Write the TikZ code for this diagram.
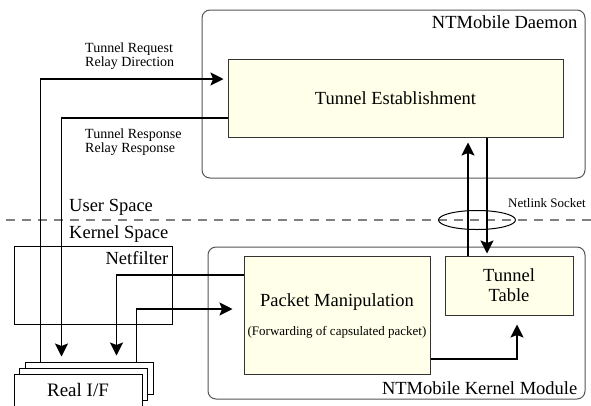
\documentclass[tikz,border=0pt]{standalone}
\usepackage{fontspec}
\setmainfont{Liberation Serif}
\usetikzlibrary{positioning, arrows.meta, shapes.geometric}
\definecolor{boxyellow}{RGB}{255,255,234}
\definecolor{framegray}{RGB}{85,85,85}
\newcommand{\bigfont}{\fontsize{18.5}{20}\selectfont}
\newcommand{\smallfont}{\fontsize{14}{14}\selectfont}
\newcommand{\tinyfont}{\fontsize{13}{14}\selectfont}

\begin{document}
\begin{tikzpicture}[x=1pt, y=-1pt, font=\bigfont,
  frame/.style={draw=framegray, line width=1pt, rounded corners=8pt, inner sep=0pt},
  block/.style={draw=black!80, line width=1pt, fill=boxyellow, inner sep=0pt, align=center},
  card/.style={draw, line width=1pt, fill=white, minimum width=128, minimum height=32, inner sep=0pt},
  tag/.style={inner sep=0pt},
  arr/.style={line width=1.4pt, -{Stealth[length=13pt, width=13pt, inset=2.5pt]}},
  sepline/.style={draw=gray, line width=1.2pt, dash pattern=on 9pt off 7pt}]
  \clip (0,0) rectangle (591,405);

  % user / kernel separation
  \coordinate (sepl) at (6,220);
  \coordinate (sepr) at (591,220);
  \draw[sepline] (sepl) -- (sepr);
  \node[tag, anchor=base west] (user) at (69,211) {User Space};
  \node[tag, anchor=base west] (kernel) at (69,238) {Kernel Space};

  % frames
  \node[frame, minimum width=383, minimum height=168] (daemon) at (393.5,94) {};
  \node[tag, anchor=base east] (daemontxt) at ([xshift=-8, yshift=-19]daemon.north east) {NTMobile Daemon};
  \node[frame, minimum width=377, minimum height=152] (kmod) at (396.5,323) {};
  \node[tag, anchor=base east] (kmodtxt) at ([xshift=-8, yshift=5]kmod.south east) {NTMobile Kernel Module};
  \node[draw, line width=1pt, minimum width=158, minimum height=78, inner sep=0pt] (netf) at (93,285) {};
  \node[tag, anchor=base east] (netftxt) at ([xshift=-4, yshift=-19]netf.north east) {Netfilter};

  % blocks
  \node[block, minimum width=335, minimum height=78] (est) at (395.5,98) {Tunnel Establishment};
  \node[block, minimum width=186, minimum height=118] (pm) at (337,315) {};
  \node[tag] (pmtxt) at ([yshift=13]pm.center) {Packet Manipulation};
  \node[tag, font=\tinyfont] (pmsub) at ([yshift=-17]pm.center) {(Forwarding of capsulated packet)};
  \node[block, minimum width=128, minimum height=59] (tt) at (509,285.5) {Tunnel\\Table};

  % real interfaces
  \node[card] (rifb) at (89,378) {};
  \node[card] (rifm) at (83,384) {};
  \node[card, font=\fontsize{19}{20}\selectfont] (riff) at (78,390) {Real I/F};

  % netlink socket
  \draw[arr, shorten >=5] ([xshift=-41]tt.north) -- ([xshift=72.5]est.south);
  \draw[arr, shorten >=2] ([xshift=91.5]est.south) -- ([xshift=-22]tt.north);
  \node[draw, ellipse, line width=1pt, minimum width=77, minimum height=19, inner sep=0pt] (sock) at (477,220) {};
  \node[tag, anchor=base west, font=\tinyfont] (socktxt) at (508,207) {Netlink Socket};

  % relay paths
  \draw[arr, shorten >=4] ([xshift=16]rifb.north west) |- ([yshift=19]est.west);
  \draw[arr, shorten >=5] ([yshift=-20]est.west) -| ([xshift=37]rifb.north west);
  \draw[arr, shorten >=6] ([yshift=40]pm.west) -| ([xshift=92]rifb.north west);
  \draw[arr, shorten >=11] ([xshift=112]rifb.north west) |- ([yshift=6]pm.west);
  \draw[arr, shorten >=9] ([yshift=-44]pm.east) -| ([xshift=8]tt.south);

  \node[tag, align=left, anchor=west, font=\smallfont] (reqtxt) at (85,56) {Tunnel Request\\Relay Direction};
  \node[tag, align=left, anchor=west, font=\smallfont] (restxt) at (85,142) {Tunnel Response\\Relay Response};
\end{tikzpicture}
\end{document}
